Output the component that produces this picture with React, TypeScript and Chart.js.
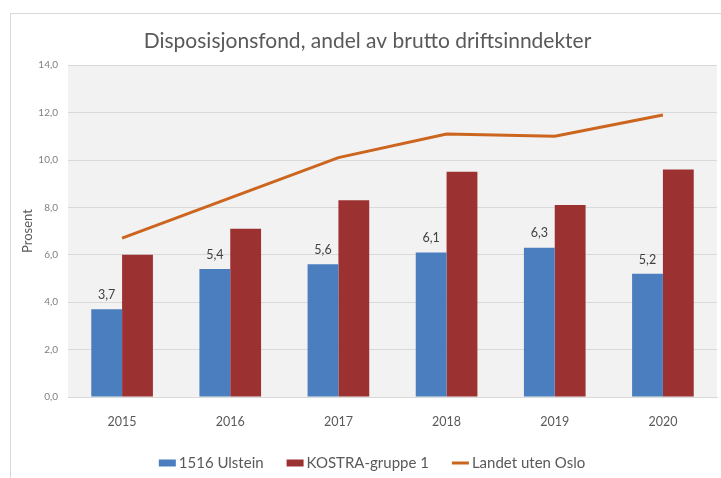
import React, { useEffect, useRef } from "react";
import { Chart, registerables } from "chart.js";

Chart.register(...registerables);

const titleText = "Disposisjonsfond, andel av brutto driftsinndekter";
const yTitle = "Prosent";
const years = ["2015", "2016", "2017", "2018", "2019", "2020"];
const seriesNames = ["1516 Ulstein", "KOSTRA-gruppe 1", "Landet uten Oslo"];
const ulstein = [3.7, 5.4, 5.6, 6.1, 6.3, 5.2];
const kostra = [6.0, 7.1, 8.3, 9.5, 8.1, 9.6];
const landet = [6.7, 8.4, 10.1, 11.1, 11.0, 11.9];
const yMin = 0;
const yMax = 14;
const yStep = 2;

const BLUE = "#4a7ebf";
const RED = "#9c3131";
const ORANGE = "#cc661f";
const FONT = "Lato, 'Open Sans', sans-serif";

const fmt = (v: number) => v.toFixed(1).replace(".", ",");

const framePlugin = {
  id: "frame",
  beforeDraw(chart: any) {
    const { ctx, chartArea } = chart;
    ctx.save();
    ctx.fillStyle = "#ffffff";
    ctx.fillRect(0, 0, chart.width, chart.height);
    ctx.strokeStyle = "#d9d9d9";
    ctx.lineWidth = 1;
    ctx.strokeRect(10.5, 13.5, chart.width + 20, chart.height + 20);
    ctx.fillStyle = "#f2f2f2";
    ctx.fillRect(chartArea.left, chartArea.top, chartArea.right - chartArea.left, chartArea.bottom - chartArea.top);
    ctx.restore();
  },
};

const labelPlugin = {
  id: "barLabels",
  afterDatasetsDraw(chart: any) {
    const { ctx } = chart;
    const meta = chart.getDatasetMeta(0);
    ctx.save();
    ctx.font = `12.5px ${FONT}`;
    ctx.fillStyle = "#404040";
    ctx.textAlign = "center";
    ctx.textBaseline = "bottom";
    meta.data.forEach((bar: any, i: number) => {
      ctx.fillText(fmt(ulstein[i]), bar.x, bar.y - 8);
    });
    ctx.restore();
  },
};

const legendPlugin = {
  id: "customLegend",
  afterDraw(chart: any) {
    const { ctx } = chart;
    ctx.save();
    ctx.font = `15px ${FONT}`;
    const markW = 17;
    const gapText = 3;
    const gapItem = 23;
    const widths = seriesNames.map((n) => ctx.measureText(n).width);
    const total =
      widths.reduce((a, b) => a + b, 0) + seriesNames.length * (markW + gapText) + gapItem * (seriesNames.length - 1);
    let x = 372 - total / 2;
    const y = 463;
    const colors = [BLUE, RED, ORANGE];
    seriesNames.forEach((n, i) => {
      if (i < 2) {
        ctx.fillStyle = colors[i];
        ctx.fillRect(x, y - 3.5, markW, 7);
      } else {
        ctx.strokeStyle = colors[i];
        ctx.lineWidth = 3;
        ctx.beginPath();
        ctx.moveTo(x, y);
        ctx.lineTo(x + markW, y);
        ctx.stroke();
      }
      x += markW + gapText;
      ctx.fillStyle = "#595959";
      ctx.textAlign = "left";
      ctx.textBaseline = "middle";
      ctx.fillText(n, x, y);
      x += widths[i] + gapItem;
    });
    ctx.restore();
  },
};

export default function App() {
  const ref = useRef<HTMLCanvasElement | null>(null);

  useEffect(() => {
    if (!ref.current) return;
    const chart = new Chart(ref.current, {
      type: "bar",
      data: {
        labels: years,
        datasets: [
          { type: "bar", label: seriesNames[0], data: ulstein, backgroundColor: BLUE, borderWidth: 0 },
          { type: "bar", label: seriesNames[1], data: kostra, backgroundColor: RED, borderWidth: 0 },
          {
            type: "line",
            label: seriesNames[2],
            data: landet,
            borderColor: ORANGE,
            borderWidth: 3,
            pointRadius: 0,
            fill: false,
            tension: 0,
          } as any,
        ],
      },
      options: {
        animation: false,
        responsive: false,
        maintainAspectRatio: false,
        layout: { padding: { left: 18, right: 4, top: 0, bottom: 0 } },
        datasets: {
          bar: { categoryPercentage: 0.57, barPercentage: 1 },
        },
        plugins: {
          legend: { display: false },
          tooltip: { enabled: false },
          title: {
            display: true,
            text: titleText,
            color: "#595959",
            font: { family: FONT, size: 21, weight: "normal" },
            padding: { top: 29, bottom: 11 },
          },
        },
        scales: {
          x: {
            grid: { display: false, drawTicks: false },
            border: { display: true, color: "#d9d9d9" },
            ticks: { color: "#595959", font: { family: FONT, size: 12.5 }, padding: 17 },
            afterFit: (scale: any) => {
              scale.height = 81;
            },
          },
          y: {
            min: yMin,
            max: yMax,
            grid: { color: "#d9d9d9", drawTicks: false },
            border: { display: false },
            ticks: {
              stepSize: yStep,
              color: "#7f7f7f",
              font: { family: FONT, size: 10 },
              padding: 10,
              callback: (v: any) => fmt(Number(v)),
            },
            title: {
              display: true,
              text: yTitle,
              color: "#595959",
              font: { family: FONT, size: 13 },
              padding: { top: 2, bottom: 0 },
            },
            afterFit: (scale: any) => {
              scale.width = 50;
            },
          },
        },
      },
      plugins: [framePlugin, labelPlugin, legendPlugin],
    });
    return () => chart.destroy();
  }, []);

  return (
    <div style={{ position: "fixed", left: 0, top: 0, width: 721, height: 478 }}>
      <canvas ref={ref} width={721} height={478} style={{ width: 721, height: 478, display: "block" }} />
    </div>
  );
}
